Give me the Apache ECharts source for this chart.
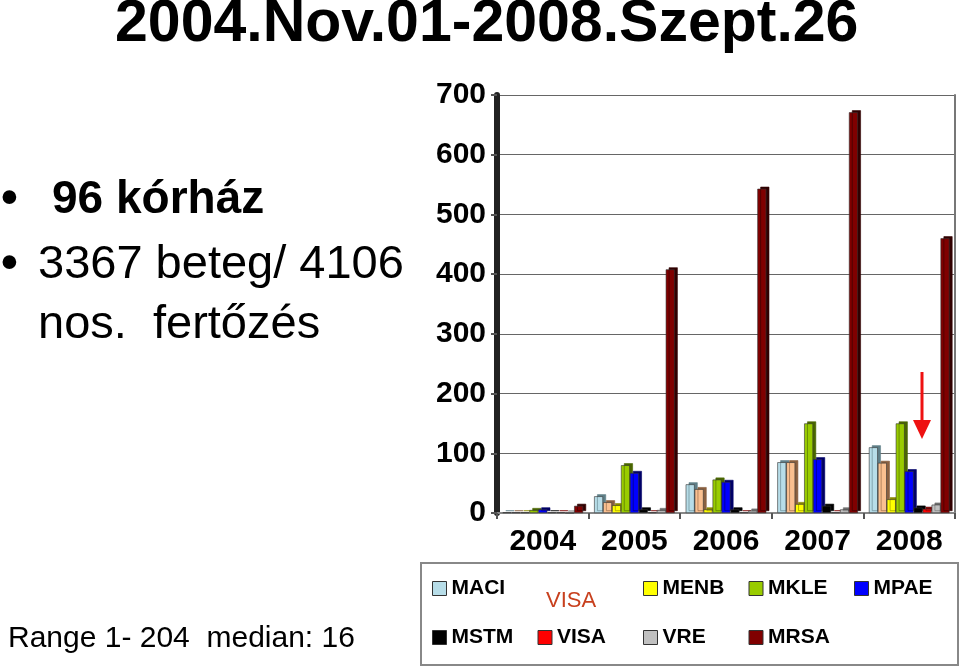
<!DOCTYPE html>
<html><head><meta charset="utf-8">
<script src="https://cdn.jsdelivr.net/npm/echarts@6/dist/echarts.min.js"></script>
<style>html,body{margin:0;padding:0;background:#fff}#c{width:960px;height:668px}</style>
</head><body><div id="c"></div>
<script>
const categories = ['2004', '2005', '2006', '2007', '2008'];
const MACI = [1, 28, 48, 85, 110];
const MESC = [1, 18, 40, 85, 84];
const MENB = [1, 13, 6, 15, 23];
const MKLE = [5, 80, 56, 150, 150];
const MPAE = [6, 67, 52, 90, 70];
const MSTM = [1, 6, 6, 12, 9];
const VISA = [1, 1, 1, 1, 7];
const VRE = [0, 5, 4, 6, 14];
const MRSA = [12, 408, 543, 671, 460];
const yTicks = [0, 100, 200, 300, 400, 500, 600, 700];

const seriesDefs = [
  ['MACI', MACI, '#b7dde8', '#5f7f88'],
  ['MESC', MESC, '#fac090', '#8a6040'],
  ['MENB', MENB, '#ffff00', '#8a8a00'],
  ['MKLE', MKLE, '#99cc00', '#4a6600'],
  ['MPAE', MPAE, '#0000ff', '#000066'],
  ['MSTM', MSTM, '#000000', '#000000'],
  ['VISA', VISA, '#ff0000', '#770000'],
  ['VRE', VRE, '#c0c0c0', '#707070'],
  ['MRSA', MRSA, '#800000', '#300000']
];
const FONT = "'Liberation Sans', Arial, sans-serif";
const chart = echarts.init(document.getElementById('c'), null, {renderer: 'canvas'});
const shadowTxt = {textShadowColor: '#999', textShadowOffsetX: 2, textShadowOffsetY: 2, textShadowBlur: 0};

chart.setOption({
  animation: false,
  backgroundColor: '#fff',
  grid: {left: 497, right: 5, top: 95, bottom: 155, containLabel: false},
  xAxis: {
    type: 'category', data: categories,
    axisLine: {lineStyle: {color: '#888', width: 2}},
    axisTick: {show: true, length: 6, lineStyle: {color: '#555', width: 2}},
    axisLabel: Object.assign({fontFamily: FONT, fontWeight: 'bold', fontSize: 30, color: '#000', margin: 14}, shadowTxt)
  },
  yAxis: [{
    type: 'value', min: 0, max: 700, interval: 100,
    axisLine: {show: true, lineStyle: {color: '#222', width: 6}},
    axisTick: {show: true, length: 6, lineStyle: {color: '#555', width: 2}},
    splitLine: {lineStyle: {color: '#666', width: 1}},
    axisLabel: Object.assign({fontFamily: FONT, fontWeight: 'bold', fontSize: 30, color: '#000', margin: 11,
      formatter: v => yTicks.indexOf(v) >= 0 ? String(v) : ''}, shadowTxt)
  }, {
    type: 'value', min: 0, max: 700, interval: 100, position: 'right',
    axisLine: {show: true, lineStyle: {color: '#777', width: 2}},
    axisTick: {show: false}, axisLabel: {show: false}, splitLine: {show: false}
  }],
  legend: {
    left: 421, top: 563, width: 530,
    padding: [6, 11, 8, 11],
    itemWidth: 14, itemHeight: 14, itemGap: 10,
    icon: 'rect',
    data: seriesDefs.map(s => s[0]),
    itemStyle: {borderColor: '#333', borderWidth: 1},
    textStyle: Object.assign({fontFamily: FONT, fontWeight: 'bold', fontSize: 21, color: '#000',
      width: 76, lineHeight: 39, overflow: 'none'}, shadowTxt)
  },
  series: seriesDefs.map(s => ({
    name: s[0], type: 'bar', data: s[1],
    barCategoryGap: '12%', barGap: '0%',
    itemStyle: {color: s[2], borderColor: '#333', borderWidth: 0.6,
      shadowColor: s[3], shadowOffsetX: 3, shadowOffsetY: -2, shadowBlur: 0}
  })),
  graphic: [
    {type: 'text', z: 100, x: 115, y: 25, style: {text: '2004.Nov.01-2008.Szept.26', font: 'bold 59px ' + FONT, fill: '#000', textVerticalAlign: 'middle'}},
    {type: 'text', z: 100, x: 1, y: 200, style: {text: '•', font: 'bold 48px ' + FONT, fill: '#000', textVerticalAlign: 'middle'}},
    {type: 'text', z: 100, x: 52, y: 200, style: {text: '96 kórház', font: 'bold 46px ' + FONT, fill: '#000', textVerticalAlign: 'middle'}},
    {type: 'text', z: 100, x: 1, y: 265, style: {text: '•', font: 'bold 48px ' + FONT, fill: '#000', textVerticalAlign: 'middle'}},
    {type: 'text', z: 100, x: 38, y: 265, style: {text: '3367 beteg/ 4106', font: '47px ' + FONT, fill: '#000', textVerticalAlign: 'middle'}},
    {type: 'text', z: 100, x: 38, y: 325, style: {text: 'nos.  fertőzés', font: '47px ' + FONT, fill: '#000', textVerticalAlign: 'middle'}},
    {type: 'text', z: 100, x: 8, y: 639, style: {text: 'Range 1- 204  median: 16', font: '30px ' + FONT, fill: '#000', textVerticalAlign: 'middle'}},
    {type: 'rect', z: 100, shape: {x: 421, y: 563, width: 537, height: 102}, style: {fill: 'none', stroke: '#888', lineWidth: 2}},
    {type: 'rect', z: 101, shape: {x: 534, y: 580, width: 98, height: 34}, style: {fill: '#fff'}},
    {type: 'text', z: 102, x: 546, y: 601, style: {text: 'VISA', font: '22px ' + FONT, fill: '#c8401e', textVerticalAlign: 'middle'}},
    {type: 'line', z: 100, shape: {x1: 922, y1: 372, x2: 922, y2: 424}, style: {stroke: '#ee1111', lineWidth: 3}},
    {type: 'polygon', z: 100, shape: {points: [[913, 420], [931, 420], [922, 439]]}, style: {fill: '#ee1111'}}
  ]
});
</script></body></html>
